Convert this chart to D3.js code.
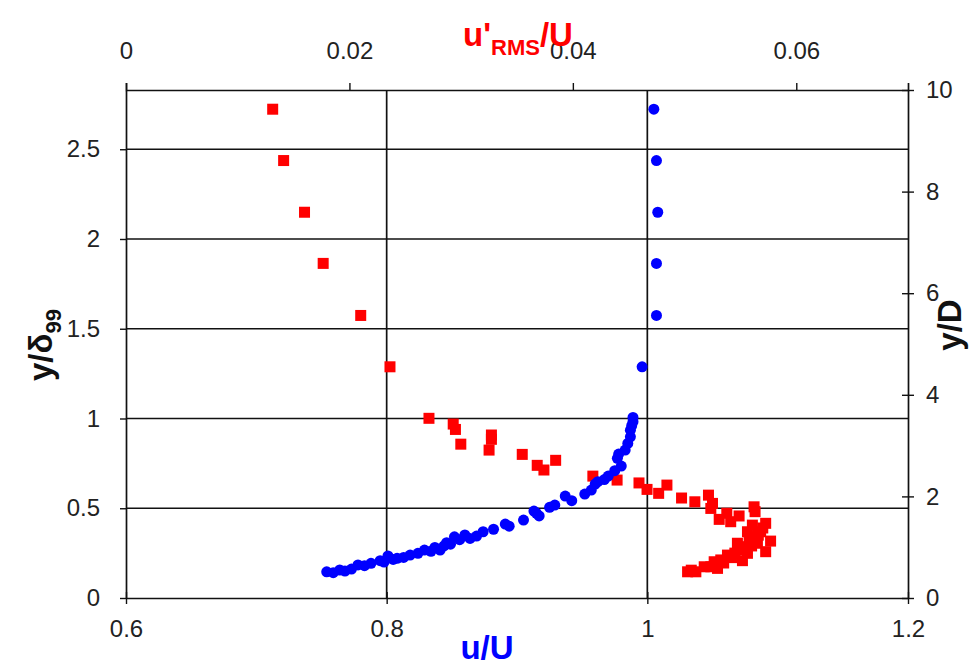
<!DOCTYPE html>
<html>
<head>
<meta charset="utf-8">
<script src="https://cdn.jsdelivr.net/npm/d3@7"></script>
<style>
  body { margin: 0; background: #fff; }
  text { font-family: "Liberation Sans", Arial, sans-serif; }
</style>
</head>
<body>
<script>
// mean velocity profile (blue) and rms fluctuation (red)

var width = 971;
var height = 669;

// u/U vs y/d99
var blueU = [0.754, 0.759, 0.764, 0.768, 0.773, 0.778, 0.783, 0.788, 0.795, 0.798, 0.801, 0.805, 0.808, 0.813, 0.818, 0.824, 0.829, 0.834, 0.837, 0.841, 0.844, 0.846, 0.849, 0.852, 0.856, 0.860, 0.864, 0.869, 0.874, 0.882, 0.891, 0.894, 0.905, 0.913, 0.915, 0.917, 0.925, 0.929, 0.937, 0.942, 0.952, 0.957, 0.960, 0.962, 0.967, 0.970, 0.975, 0.980, 0.977, 0.978, 0.983, 0.985, 0.987, 0.987, 0.988, 0.989, 0.989, 0.996, 1.007, 1.007, 1.008, 1.007, 1.005];
var blueY = [0.146, 0.141, 0.156, 0.150, 0.161, 0.184, 0.180, 0.193, 0.208, 0.200, 0.234, 0.215, 0.221, 0.226, 0.239, 0.249, 0.267, 0.260, 0.282, 0.267, 0.290, 0.308, 0.300, 0.341, 0.325, 0.351, 0.332, 0.345, 0.369, 0.383, 0.412, 0.400, 0.434, 0.484, 0.472, 0.457, 0.505, 0.518, 0.568, 0.542, 0.579, 0.601, 0.635, 0.648, 0.660, 0.679, 0.709, 0.735, 0.778, 0.802, 0.824, 0.861, 0.898, 0.935, 0.960, 0.982, 1.006, 1.288, 1.574, 1.864, 2.149, 2.437, 2.723];

// u'rms/U vs y/d99
var redU = [0.01313, 0.01411, 0.01598, 0.01765, 0.02101, 0.02363, 0.02712, 0.02929, 0.02949, 0.02997, 0.03271, 0.03271, 0.0325, 0.03547, 0.03681, 0.03741, 0.03846, 0.04179, 0.04396, 0.04592, 0.04664, 0.04768, 0.04842, 0.04973, 0.05092, 0.05214, 0.0525, 0.05235, 0.0531, 0.05378, 0.05413, 0.05488, 0.05622, 0.05631, 0.05726, 0.0577, 0.05726, 0.05563, 0.05622, 0.05652, 0.05503, 0.05563, 0.05518, 0.05681, 0.05473, 0.05384, 0.05324, 0.05265, 0.05235, 0.05176, 0.05295, 0.05101, 0.05027, 0.05578, 0.05607, 0.05600, 0.05660, 0.05540, 0.05450, 0.05420, 0.05350, 0.05700, 0.05060];
var redY = [2.723, 2.437, 2.149, 1.864, 1.574, 1.288, 1.001, 0.969, 0.939, 0.857, 0.908, 0.884, 0.824, 0.800, 0.739, 0.713, 0.767, 0.679, 0.657, 0.641, 0.605, 0.583, 0.629, 0.557, 0.536, 0.573, 0.527, 0.499, 0.438, 0.472, 0.425, 0.457, 0.508, 0.481, 0.416, 0.317, 0.258, 0.369, 0.341, 0.305, 0.286, 0.249, 0.208, 0.369, 0.305, 0.239, 0.212, 0.202, 0.174, 0.174, 0.165, 0.146, 0.146, 0.323, 0.406, 0.290, 0.350, 0.270, 0.250, 0.225, 0.195, 0.390, 0.155];

var bottomTicks = [0.6, 0.8, 1, 1.2];
var topTicks = [0, 0.02, 0.04, 0.06];
var leftTicks = [0, 0.5, 1, 1.5, 2, 2.5];
var rightTicks = [0, 2, 4, 6, 8, 10];

var plotL = 126, plotR = 908, plotT = 90, plotB = 598;

var x = d3.scaleLinear().domain([0.6, 1.2]).range([plotL, plotR]);
var x2 = d3.scaleLinear().domain([0, 0.07]).range([plotL, plotR]);
var y = d3.scaleLinear().domain([0, 2.83]).range([plotB, plotT]);
var y2 = d3.scaleLinear().domain([0, 10]).range([plotB, plotT]);

var svg = d3.select('body').append('svg')
  .attr('width', width)
  .attr('height', height)

// grid
svg.selectAll('.hgrid')
  .data(leftTicks.slice(1))
  .enter().append('line')
  .attr('x1', plotL).attr('x2', plotR)
  .attr('y1', function(d) {return y(d)})
  .attr('y2', function(d) {return y(d)})
  .attr('stroke', '#111').attr('stroke-width', 1.7)

svg.selectAll('.vgrid')
  .data([0.8, 1])
  .enter().append('line')
  .attr('y1', plotT).attr('y2', plotB)
  .attr('x1', function(d) {return x(d)})
  .attr('x2', function(d) {return x(d)})
  .attr('stroke', '#111').attr('stroke-width', 1.7)

function styleAxis(g) {
  g.attr('font-size', null).attr('font-family', null)
  g.selectAll('path').attr('stroke', '#111').attr('stroke-width', 1.7)
  g.selectAll('line').attr('stroke', '#111').attr('stroke-width', 1.4)
  g.selectAll('text')
    .style('font-family', '"Liberation Sans", Arial, sans-serif')
    .style('font-size', '24px')
    .attr('fill', '#222')
}

var gb = svg.append('g').attr('transform', 'translate(0,' + plotB + ')')
  .call(d3.axisBottom(x).tickValues(bottomTicks).tickFormat(d3.format('')).tickSize(6).tickSizeOuter(0).tickPadding(16))
styleAxis(gb)
gb.selectAll('.tick line').attr('y1', -6)

var gt = svg.append('g').attr('transform', 'translate(0,' + plotT + ')')
  .call(d3.axisTop(x2).tickValues(topTicks).tickFormat(d3.format('')).tickSize(7).tickSizeOuter(7).tickPadding(24))
styleAxis(gt)

var gl = svg.append('g').attr('transform', 'translate(' + plotL + ',0)')
  .call(d3.axisLeft(y).tickValues(leftTicks).tickFormat(d3.format('')).tickSize(6).tickSizeOuter(0).tickPadding(20))
styleAxis(gl)

var gr = svg.append('g').attr('transform', 'translate(' + plotR + ',0)')
  .call(d3.axisRight(y2).tickValues(rightTicks).tickFormat(d3.format('')).tickSize(6).tickSizeOuter(0).tickPadding(12))
styleAxis(gr)
gr.selectAll('.tick line').attr('x1', -6)

// points
var blue = blueU.map(function(d, i) {return {u: d, y: blueY[i]}});
var red = redU.map(function(d, i) {return {u: d, y: redY[i]}});

svg.selectAll('.red')
  .data(red)
  .enter().append('rect')
  .attr('x', function(d) {return x2(d.u) - 5.5})
  .attr('y', function(d) {return y(d.y) - 5.5})
  .attr('width', 11)
  .attr('height', 11)
  .attr('fill', '#ff0000')

svg.selectAll('.blue')
  .data(blue)
  .enter().append('circle')
  .attr('r', 5.5)
  .attr('cx', function(d) {return x(d.u)})
  .attr('cy', function(d) {return y(d.y)})
  .attr('fill', '#0000ff')

// axis titles
svg.append('text')
  .attr('x', 487).attr('y', 659)
  .attr('text-anchor', 'middle')
  .attr('fill', '#0000ff')
  .style('font-size', '33px').style('font-weight', 'bold')
  .text('u/U')

var tt = svg.append('text')
  .attr('x', 518).attr('y', 46)
  .attr('text-anchor', 'middle')
  .attr('fill', '#ff0000')
  .style('font-size', '33px').style('font-weight', 'bold')
tt.append('tspan').text("u'")
tt.append('tspan').attr('dy', 9).style('font-size', '22px').text('RMS')
tt.append('tspan').attr('dy', -9).text('/U')

var lt = svg.append('text')
  .attr('transform', 'translate(52,345) rotate(-90)')
  .attr('text-anchor', 'middle')
  .attr('fill', '#111')
  .style('font-size', '33px').style('font-weight', 'bold')
lt.append('tspan').text('y/δ')
lt.append('tspan').attr('dy', 9).style('font-size', '22px').text('99')

svg.append('text')
  .attr('transform', 'translate(961,325) rotate(-90)')
  .attr('text-anchor', 'middle')
  .attr('fill', '#111')
  .style('font-size', '33px').style('font-weight', 'bold')
  .text('y/D')
</script>
</body>
</html>
